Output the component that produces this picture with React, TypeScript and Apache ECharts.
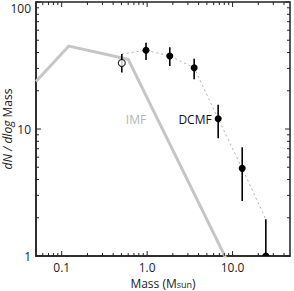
import React, { useEffect, useRef } from 'react';
import * as echarts from 'echarts';

const xMin = 0.05;
const xMax = 47;
const yMin = 1;
const yMax = 100;

const xMajorTicks = [0.1, 1, 10];
const xTickLabels = ['0.1', '1.0', '10.0'];
const xMinorTicks = [0.06, 0.07, 0.08, 0.09, 0.2, 0.3, 0.4, 0.5, 0.6, 0.7, 0.8, 0.9, 2, 3, 4, 5, 6, 7, 8, 9, 20, 30, 40];
const yMajorTicks = [1, 10, 100];
const yTickLabels = ['1', '10', '100'];
const yMinorTicks = [2, 3, 4, 5, 6, 7, 8, 9, 20, 30, 40, 50, 60, 70, 80, 90];

// IMF (grey solid line)
const imfMass = [0.05, 0.121, 0.6, 10];
const imfValue = [23.7, 45.0, 35.4, 0.75];

// DCMF filled points with error bars
const dcmfMass = [0.97, 1.84, 3.55, 6.78, 12.96, 24.5];
const dcmfValue = [41.7, 37.6, 30.4, 12.05, 4.9, 1.0];
const dcmfLow = [34.9, 31.3, 24.6, 8.45, 2.71, 1.0];
const dcmfHigh = [47.8, 44.0, 35.8, 15.5, 7.18, 1.95];

// open point
const openMass = [0.505];
const openValue = [33.1];
const openLow = [27.8];
const openHigh = [39.0];

// dashed connecting line
const dashedMass = [0.505, 0.97, 1.84, 3.55, 6.78, 12.96, 24.5];
const dashedValue = [39.0, 41.7, 37.6, 30.4, 12.05, 4.9, 1.95];

const AXIS_COLOR = '#222';
const FONT = 'Open Sans';

function labelIndex(val: number, ticks: number[]) {
  return ticks.findIndex((t) => Math.abs(Math.log10(t) - Math.log10(val)) < 1e-6);
}

export default function App() {
  const ref = useRef<HTMLDivElement>(null);
  useEffect(() => {
    if (!ref.current) return;
    const chart = echarts.init(ref.current, undefined, { renderer: 'svg' });

    const xTickData = [
      ...xMajorTicks.map((v) => [v, yMin, 1]),
      ...xMinorTicks.map((v) => [v, yMin, 0]),
    ];
    const yTickData = [
      ...yMajorTicks.map((v) => [xMin, v, 1]),
      ...yMinorTicks.map((v) => [xMin, v, 0]),
    ];

    const errData = [
      ...dcmfMass.map((m, i) => [m, dcmfLow[i], dcmfHigh[i]]),
      ...openMass.map((m, i) => [m, openLow[i], openHigh[i]]),
    ];

    chart.setOption({
      animation: false,
      grid: {
        left: 36,
        top: 2,
        width: 254,
        height: 254,
        containLabel: false,
        outerBoundsMode: 'none',
        show: true,
        borderColor: AXIS_COLOR,
        borderWidth: 1.5,
        backgroundColor: 'transparent',
      },
      xAxis: {
        type: 'log',
        logBase: 10,
        min: xMin,
        max: xMax,
        axisLine: { show: true, lineStyle: { color: AXIS_COLOR, width: 1.5 } },
        axisTick: { show: false },
        splitLine: { show: false },
        axisLabel: {
          color: AXIS_COLOR,
          fontFamily: FONT,
          fontSize: 12,
          margin: 5,
          showMinLabel: false,
          showMaxLabel: false,
          formatter: (v: number) => {
            const i = labelIndex(v, xMajorTicks);
            return i >= 0 ? xTickLabels[i] : '';
          },
        },
        name: 'Mass (M{sub|sun})',
        nameLocation: 'middle',
        nameGap: 21,
        nameMoveOverlap: false,
        nameTextStyle: {
          color: AXIS_COLOR,
          fontFamily: FONT,
          fontSize: 12,
          align: 'center',
          rich: {
            sub: { fontSize: 9, padding: [3, 0, 0, 0], fontFamily: FONT, color: AXIS_COLOR },
          },
        },
      },
      yAxis: {
        type: 'log',
        logBase: 10,
        min: yMin,
        max: yMax,
        axisLine: { show: true, lineStyle: { color: AXIS_COLOR, width: 1.5 } },
        axisTick: { show: false },
        splitLine: { show: false },
        axisLabel: {
          color: AXIS_COLOR,
          fontFamily: FONT,
          fontSize: 12,
          margin: 5,
          verticalAlignMaxLabel: 'top',
          formatter: (v: number) => {
            const i = labelIndex(v, yMajorTicks);
            return i >= 0 ? yTickLabels[i] : '';
          },
        },
        name: '{i|dN / dlog} Mass',
        nameLocation: 'middle',
        nameGap: 23,
        nameRotate: 90,
        nameMoveOverlap: false,
        nameTextStyle: {
          color: AXIS_COLOR,
          fontFamily: FONT,
          fontSize: 12,
          rich: {
            i: { fontStyle: 'italic', fontFamily: FONT, fontSize: 12, color: AXIS_COLOR },
          },
        },
      },
      series: [
        {
          type: 'custom',
          coordinateSystem: 'cartesian2d',
          silent: true,
          clip: false,
          encode: { x: 0, y: 1 },
          data: xTickData,
          renderItem: (params: any, api: any) => {
            const v = api.value(0);
            const len = api.value(2) ? 5 : 3;
            const pb = api.coord([v, yMin]);
            const pt = api.coord([v, yMax]);
            const st = { stroke: AXIS_COLOR, lineWidth: 1 };
            return {
              type: 'group',
              children: [
                { type: 'line', shape: { x1: pb[0], y1: pb[1], x2: pb[0], y2: pb[1] - len }, style: st },
                { type: 'line', shape: { x1: pt[0], y1: pt[1], x2: pt[0], y2: pt[1] + len }, style: st },
              ],
            };
          },
          z: 5,
        },
        {
          type: 'custom',
          coordinateSystem: 'cartesian2d',
          silent: true,
          clip: false,
          encode: { x: 0, y: 1 },
          data: yTickData,
          renderItem: (params: any, api: any) => {
            const v = api.value(1);
            const len = api.value(2) ? 5 : 3;
            const pl = api.coord([xMin, v]);
            const pr = api.coord([xMax, v]);
            const st = { stroke: AXIS_COLOR, lineWidth: 1 };
            return {
              type: 'group',
              children: [
                { type: 'line', shape: { x1: pl[0], y1: pl[1], x2: pl[0] + len, y2: pl[1] }, style: st },
                { type: 'line', shape: { x1: pr[0], y1: pr[1], x2: pr[0] - len, y2: pr[1] }, style: st },
              ],
            };
          },
          z: 5,
        },
        {
          type: 'line',
          data: imfMass.map((m, i) => [m, imfValue[i]]),
          showSymbol: false,
          symbol: 'none',
          clip: true,
          lineStyle: { color: '#c6c6c6', width: 3, cap: 'butt', join: 'miter' },
          z: 2,
        },
        {
          type: 'line',
          data: dashedMass.map((m, i) => [m, dashedValue[i]]),
          symbol: 'none',
          clip: true,
          lineStyle: { color: '#b0b0b0', width: 1, type: [2, 3] },
          z: 3,
        },
        {
          type: 'custom',
          coordinateSystem: 'cartesian2d',
          encode: { x: 0, y: [1, 2] },
          data: errData,
          clip: true,
          renderItem: (params: any, api: any) => {
            const m = api.value(0);
            const a = api.coord([m, api.value(1)]);
            const b = api.coord([m, api.value(2)]);
            return {
              type: 'line',
              shape: { x1: a[0], y1: a[1], x2: b[0], y2: b[1] },
              style: { stroke: '#000', lineWidth: 1.6 },
            };
          },
          z: 4,
        },
        {
          type: 'custom',
          coordinateSystem: 'cartesian2d',
          encode: { x: 0, y: 1 },
          data: dcmfMass.map((m, i) => [m, dcmfValue[i]]),
          clip: true,
          renderItem: (params: any, api: any) => {
            const p = api.coord([api.value(0), api.value(1)]);
            return {
              type: 'circle',
              shape: { cx: p[0], cy: p[1], r: 3.5 },
              style: { fill: '#000' },
            };
          },
          z: 6,
        },
        {
          type: 'scatter',
          data: openMass.map((m, i) => [m, openValue[i]]),
          symbol: 'circle',
          symbolSize: 7,
          itemStyle: { color: '#fff', borderColor: '#000', borderWidth: 1.2 },
          z: 6,
        },
      ],
      graphic: [
        {
          type: 'text',
          x: 136,
          y: 119,
          style: { text: 'IMF', fill: '#b4b4b4', font: `12px "${FONT}"`, textAlign: 'center', textVerticalAlign: 'middle' },
        },
        {
          type: 'text',
          x: 195,
          y: 119,
          style: { text: 'DCMF', fill: '#111', font: `12px "${FONT}"`, textAlign: 'center', textVerticalAlign: 'middle' },
        },
      ],
    });
    return () => chart.dispose();
  }, []);

  return (
    <div
      ref={ref}
      style={{ position: 'fixed', left: 0, top: 0, width: 294, height: 291, background: '#fff' }}
    />
  );
}
